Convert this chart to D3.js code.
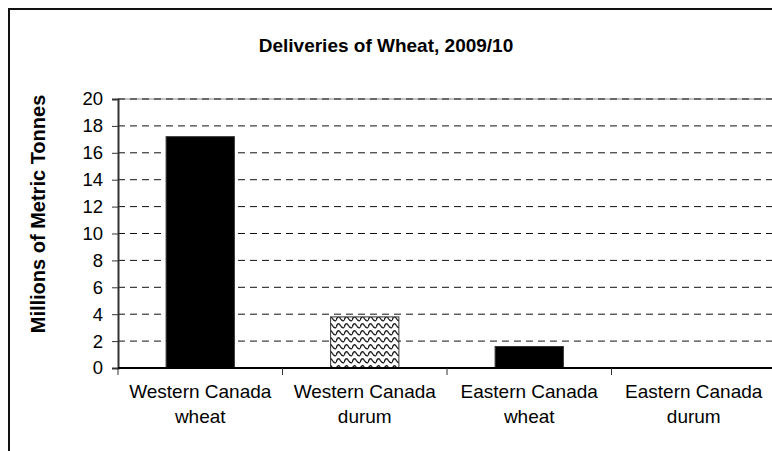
<!DOCTYPE html>
<html>
<head>
<meta charset="utf-8">
<script src="https://cdn.jsdelivr.net/npm/d3@7"></script>
<style>
  body { margin: 0; background: #fff; }
  svg { display: block; font-family: "Liberation Sans", Arial, sans-serif; }
</style>
</head>
<body>
<div id="chart"></div>
<script>
const categories = [
  ["Western Canada", "wheat"],
  ["Western Canada", "durum"],
  ["Eastern Canada", "wheat"],
  ["Eastern Canada", "durum"]
];
const values = [17.2, 3.8, 1.6, 0];
const fills = ["black", "url(#wave)", "black", "black"];
const yTicks = [0, 2, 4, 6, 8, 10, 12, 14, 16, 18, 20];

const width = 772;
const height = 451;
const margin = { top: 99, left: 118, bottom: 83, right: -4 };

const svg = d3.select("#chart")
  .append("svg")
  .attr("width", width)
  .attr("height", height);

// wavy fill for the durum bar
const pat = svg.append("defs").append("pattern")
  .attr("id", "wave")
  .attr("patternUnits", "userSpaceOnUse")
  .attr("width", 8)
  .attr("height", 7);
pat.append("rect").attr("width", 8).attr("height", 7).attr("fill", "#fff");
pat.append("path")
  .attr("d", "M0,5.5 Q2,-0.5 4,3 Q6,6.5 8,5.5")
  .attr("fill", "none")
  .attr("stroke", "#222")
  .attr("stroke-width", 1.4);

// outer frame
svg.append("rect")
  .attr("x", 9).attr("y", 9)
  .attr("width", 800).attr("height", 500)
  .attr("fill", "none")
  .attr("stroke", "#111")
  .attr("stroke-width", 2);

svg.append("text")
  .attr("x", 386)
  .attr("y", 52)
  .attr("text-anchor", "middle")
  .style("font-size", "19px")
  .style("font-weight", "bold")
  .text("Deliveries of Wheat, 2009/10");

const x = d3.scaleBand()
  .domain(d3.range(categories.length))
  .range([margin.left, width - margin.right])
  .paddingInner(0.585)
  .paddingOuter(0.2925);

const y = d3.scaleLinear()
  .domain([0, 20])
  .range([height - margin.bottom, margin.top]);

// grid
svg.append("line")
  .attr("x1", margin.left).attr("x2", width)
  .attr("y1", y(20)).attr("y2", y(20))
  .attr("stroke", "#888").attr("stroke-width", 1);

svg.append("g")
  .selectAll("line")
  .data(yTicks.filter(d => d > 0))
  .join("line")
  .attr("x1", margin.left)
  .attr("x2", width)
  .attr("y1", d => y(d))
  .attr("y2", d => y(d))
  .attr("stroke", "#111")
  .attr("stroke-dasharray", "7,5");

// bars
svg.append("g")
  .selectAll("rect")
  .data(values)
  .join("rect")
  .attr("x", (d, i) => x(i))
  .attr("y", d => y(d))
  .attr("width", x.bandwidth())
  .attr("height", d => y(0) - y(d))
  .attr("fill", (d, i) => fills[i])
  .attr("stroke", (d, i) => d > 0 ? "#333" : "none")
  .attr("stroke-width", 1);

// y axis
const yAxis = svg.append("g")
  .attr("transform", `translate(${margin.left},0)`)
  .call(d3.axisLeft(y).tickValues(yTicks).tickSize(6).tickPadding(9));
yAxis.select(".domain").attr("stroke", "#333").attr("stroke-width", 2);
yAxis.selectAll(".tick line").attr("stroke", "#333");
yAxis.selectAll("text")
  .style("font-size", "18.5px")
  .style("font-family", "Liberation Sans, Arial, sans-serif")
  .attr("fill", "#000");

// x axis with boundary ticks
const step = x.step();
const bounds = d3.range(categories.length + 1).map(i => margin.left + i * step);
svg.append("line")
  .attr("x1", margin.left).attr("x2", width)
  .attr("y1", y(0)).attr("y2", y(0))
  .attr("stroke", "#000").attr("stroke-width", 2);
svg.append("g")
  .selectAll("line")
  .data(bounds)
  .join("line")
  .attr("x1", d => d).attr("x2", d => d)
  .attr("y1", y(0)).attr("y2", y(0) + 7)
  .attr("stroke", "#333");

const labels = svg.append("g")
  .selectAll("text")
  .data(categories)
  .join("text")
  .attr("text-anchor", "middle")
  .attr("x", (d, i) => x(i) + x.bandwidth() / 2)
  .attr("y", y(0) + 30)
  .style("font-size", "19px");
labels.each(function(d) {
  const t = d3.select(this);
  d.forEach((line, k) => {
    t.append("tspan")
      .attr("x", t.attr("x"))
      .attr("dy", k === 0 ? 0 : 25)
      .text(line);
  });
});

svg.append("text")
  .attr("transform", `translate(45,214) rotate(-90)`)
  .attr("text-anchor", "middle")
  .style("font-size", "20px")
  .style("font-weight", "bold")
  .text("Millions of Metric Tonnes");
</script>
</body>
</html>
